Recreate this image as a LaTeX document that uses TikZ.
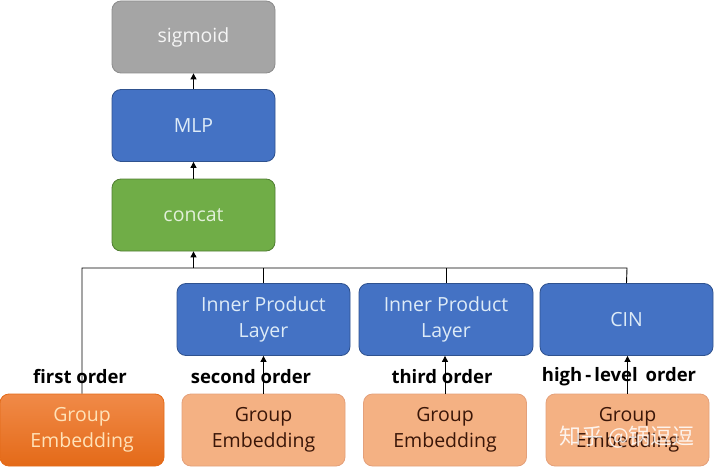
\documentclass[tikz,border=0pt]{standalone}
\usepackage{fontspec}
\setmainfont{Open Sans}
\newfontfamily\cjk{Noto Sans CJK SC}
\usetikzlibrary{arrows.meta}
\definecolor{grayfill}{HTML}{A5A5A5}
\definecolor{graydraw}{HTML}{8C8C8C}
\definecolor{bluefill}{HTML}{4472C4}
\definecolor{bluedraw}{HTML}{2F528F}
\definecolor{bluetext}{HTML}{DDEBF7}
\definecolor{greenfill}{HTML}{70AD47}
\definecolor{greendraw}{HTML}{507E32}
\definecolor{greentext}{HTML}{E2F0D9}
\definecolor{salmonfill}{HTML}{F4B183}
\definecolor{salmondraw}{HTML}{E4A07A}
\definecolor{salmontext}{HTML}{3A1608}
\definecolor{orangetop}{HTML}{F08A48}
\definecolor{orangebot}{HTML}{E46A18}
\definecolor{orangetext}{HTML}{FFE2B8}
\begin{document}
\begin{tikzpicture}[x=1pt,y=-1pt,
  box/.style={rounded corners=9pt, minimum width=163pt, minimum height=72pt,
    align=center, font=\fontsize{19.5}{26}\selectfont, inner sep=0pt, line width=0.8pt},
  graybox/.style={box, fill=grayfill, draw=graydraw, text=white!92!gray},
  bluebox/.style={box, fill=bluefill, draw=bluedraw, text=bluetext},
  greenbox/.style={box, fill=greenfill, draw=greendraw, text=greentext},
  salmonbox/.style={box, fill=salmonfill, draw=salmondraw, text=salmontext},
  orangebox/.style={box, top color=orangetop, bottom color=orangebot, draw=orangebot, text=orangetext},
  lbl/.style={font=\fontsize{18.5}{20}\selectfont\bfseries, text=black, inner sep=0pt},
  conn/.style={line width=0.9pt, draw=black},
  arr/.style={conn, -{Triangle[length=6pt,width=6pt]}}
]
\useasboundingbox (0,0) rectangle (714,468);
\fill[white] (0,0) rectangle (714,468);

\node[graybox] (sig) at (193.5,37) {sigmoid};
\node[bluebox] (mlp) at (193.5,125.5) {MLP};
\node[greenbox] (cat) at (193.5,215) {concat};

\node[bluebox, minimum width=173pt] (ip1) at (263.5,319.5) {Inner Product\\Layer};
\node[bluebox, minimum width=174pt] (ip2) at (446,319.5) {Inner Product\\Layer};
\node[bluebox, minimum width=173pt] (cin) at (626.5,319.5) {CIN};

\node[orangebox, minimum width=164pt] (ge1) at (82,430) {Group\\Embedding};
\node[salmonbox] (ge2) at (263.5,430) {Group\\Embedding};
\node[salmonbox] (ge3) at (445,430) {Group\\Embedding};
\node[salmonbox] (ge4) at (627.5,430) {Group\\Embedding};

\coordinate (busL) at (82,268);
\coordinate (busR) at (627,268);
\coordinate (busC) at (193.5,268);
\coordinate (bus1) at (263.5,268);
\coordinate (bus2) at (446,268);

\draw[arr] (mlp.north) -- (sig.south);
\draw[arr] (cat.north) -- (mlp.south);
\draw[conn] (ge1.north) -- (busL) -- (busR) -- (cin.north);
\draw[conn] (bus1) -- (ip1.north);
\draw[conn] (bus2) -- (ip2.north);
\draw[arr] (busC) -- (cat.south);
\draw[arr] (ge2.north) -- (ip1.south -| ge2.north);
\draw[arr] (ge3.north) -- (ip2.south -| ge3.north);
\draw[arr] (ge4.north) -- (cin.south -| ge4.north);

\node[lbl] (l1) at (80,377) {first order};
\node[lbl] (l2) at (251,377) {second order};
\node[lbl] (l3) at (442,377) {third order};
\node[lbl] (l4) at (619,377) {high\,-\,level\, order};

\node[font=\cjk\fontsize{22}{24}\selectfont, text=white, opacity=0.85, inner sep=0pt] (wm) at (627,437) {知乎 @锅逗逗};
\end{tikzpicture}
\end{document}
